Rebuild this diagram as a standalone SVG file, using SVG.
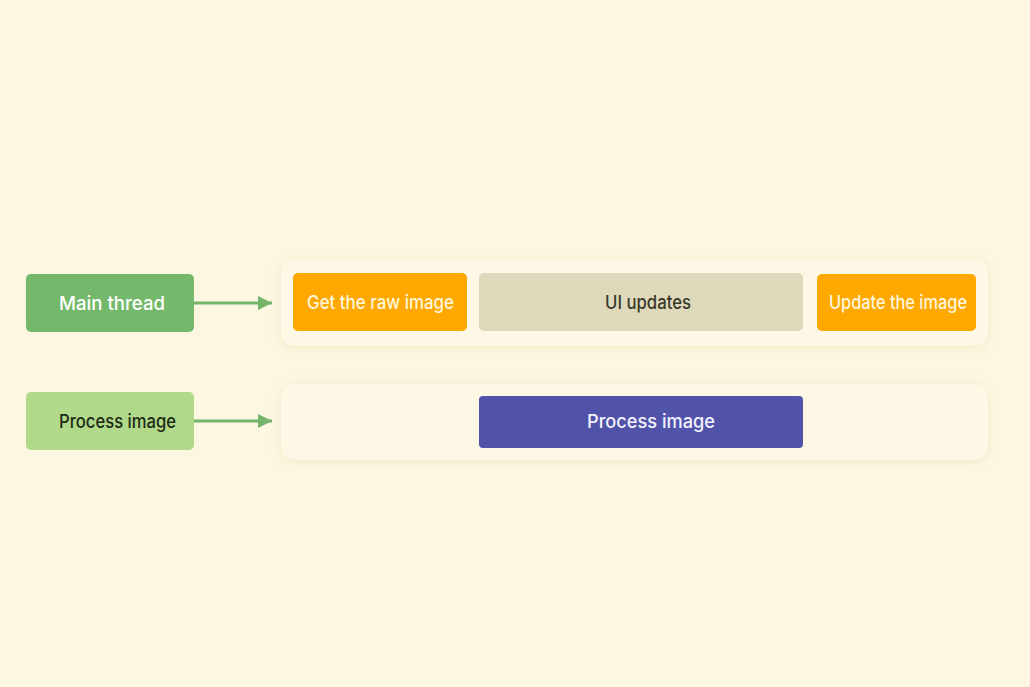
<svg xmlns="http://www.w3.org/2000/svg" width="1030" height="687" viewBox="0 0 1030 687">
<defs>
<filter id="sh" x="-10%" y="-40%" width="120%" height="180%">
<feDropShadow dx="0" dy="1" stdDeviation="5" flood-color="#eadcac" flood-opacity="0.55"/>
</filter>
<marker id="ah" markerWidth="14" markerHeight="14" refX="14" refY="7" orient="auto" markerUnits="userSpaceOnUse">
<path d="M0,0 L14,7 L0,14 Z" fill="#74b46b"/>
</marker>
<style>
text{font-family:Inter,"Noto Sans","Liberation Sans",sans-serif;font-size:18.5px;font-weight:500;text-anchor:middle;dominant-baseline:central;lengthAdjust:spacingAndGlyphs}
.lane{fill:#fdf8e6;filter:url(#sh)}
.conn{stroke:#74b46b;stroke-width:3;fill:none;marker-end:url(#ah)}
</style>
</defs>
<rect width="1030" height="687" fill="#fdf6e1"/>
<g id="lane-main"><rect class="lane" x="281" y="259" width="707" height="87" rx="14"/></g>
<g id="lane-worker"><rect class="lane" x="281" y="384" width="707" height="76" rx="14"/></g>
<g id="connectors">
<line class="conn" x1="194" y1="303" x2="272" y2="303"/>
<line class="conn" x1="194" y1="421" x2="272" y2="421"/>
</g>
<g id="main-thread"><rect x="26" y="274" width="168" height="58" rx="5" fill="#74b96b"/><text x="112" y="303" fill="#ffffff" textLength="106" lengthAdjust="spacingAndGlyphs">Main thread</text></g>
<g id="process-thread"><rect x="26" y="392" width="168" height="58" rx="5" fill="#b0d98a"/><text x="117.5" y="421" fill="#1d2b15" textLength="117" lengthAdjust="spacingAndGlyphs">Process image</text></g>
<g id="get-raw"><rect x="293" y="273" width="174" height="58" rx="5" fill="#ffa800"/><text x="380.5" y="302" fill="#fff6dc" textLength="147" lengthAdjust="spacingAndGlyphs">Get the raw image</text></g>
<g id="ui-updates"><rect x="479" y="273" width="324" height="58" rx="5" fill="#ddd9ba"/><text x="648" y="302" fill="#3a3a2a" textLength="86" lengthAdjust="spacingAndGlyphs">UI updates</text></g>
<g id="update-image"><rect x="817" y="274" width="159" height="57" rx="5" fill="#ffa800"/><text x="898" y="302" fill="#fff6dc" textLength="138" lengthAdjust="spacingAndGlyphs">Update the image</text></g>
<g id="process-image"><rect x="479" y="396" width="324" height="52" rx="4" fill="#5053a8"/><text x="651" y="421" fill="#f4f2ff" textLength="128" lengthAdjust="spacingAndGlyphs">Process image</text></g>
</svg>
